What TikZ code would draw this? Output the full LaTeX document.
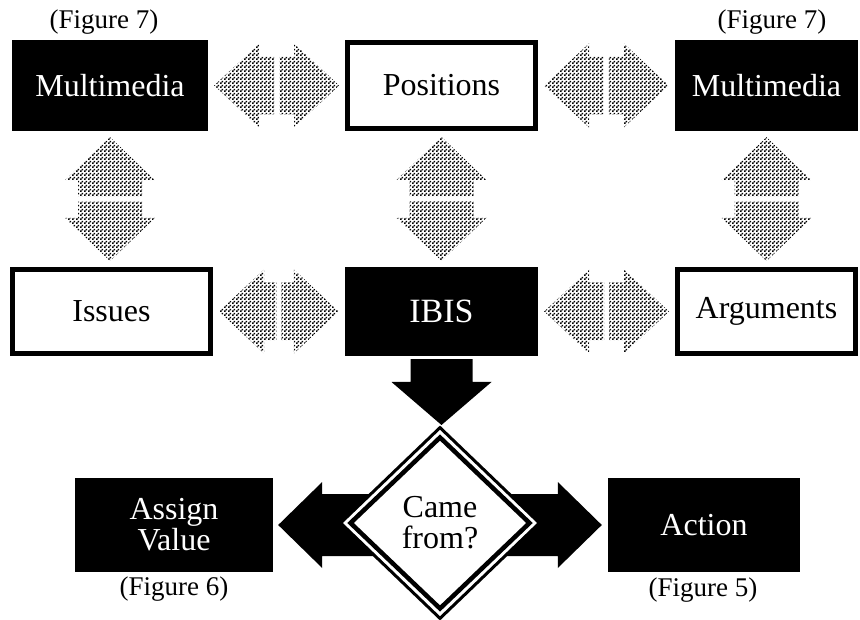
\documentclass[tikz,border=0pt]{standalone}
\usepackage{fontspec}
\setmainfont{Liberation Serif}
\usetikzlibrary{calc,patterns,shapes.geometric}
\pgfdeclarepatternformonly{checker}{\pgfpointorigin}{\pgfpoint{4pt}{4pt}}{\pgfpoint{4pt}{4pt}}{%
  \pgfpathrectangle{\pgfpointorigin}{\pgfpoint{2pt}{2pt}}%
  \pgfpathrectangle{\pgfpoint{2pt}{2pt}}{\pgfpoint{2pt}{2pt}}%
  \pgfusepath{fill}}
\tikzset{
  darkbox/.style={rectangle, fill=black, text=white, inner sep=0pt, align=center,
    font=\fontsize{32}{31}\selectfont},
  lightbox/.style={rectangle, draw=black, line width=5pt, fill=white, inner sep=0pt, align=center,
    font=\fontsize{32}{31}\selectfont},
  figlabel/.style={inner sep=0pt, font=\fontsize{27}{30}\selectfont},
  hatch/.style={pattern=checker, pattern color=black},
  solidarrow/.style={fill=black},
}
\newcommand{\hpair}[2]{%
  \fill[hatch] let \p1=($(#1.east)+(6,0)$), \p2=($(#2.west)+(-6,0)$), \n1={(\x1+\x2)/2} in
    (\x1,\y1) -- (\x1+45pt,\y1+42pt) -- (\x1+45pt,\y1+29pt) -- (\n1-2.5pt,\y1+29pt)
      -- (\n1-2.5pt,\y1-29pt) -- (\x1+45pt,\y1-29pt) -- (\x1+45pt,\y1-42pt) -- cycle
    (\x2,\y1) -- (\x2-45pt,\y1+42pt) -- (\x2-45pt,\y1+29pt) -- (\n1+2.5pt,\y1+29pt)
      -- (\n1+2.5pt,\y1-29pt) -- (\x2-45pt,\y1-29pt) -- (\x2-45pt,\y1-42pt) -- cycle;}
\newcommand{\vpair}[2]{%
  \fill[hatch] let \p1=($(#1.south)+(0,6)$), \p2=($(#2.north)+(0,-6)$), \n1={(\y1+\y2)/2} in
    (\x1,\y1) -- (\x1+45pt,\y1-43pt) -- (\x1+32pt,\y1-43pt) -- (\x1+32pt,\n1+2.5pt)
      -- (\x1-32pt,\n1+2.5pt) -- (\x1-32pt,\y1-43pt) -- (\x1-45pt,\y1-43pt) -- cycle
    (\x1,\y2) -- (\x1+45pt,\y2+43pt) -- (\x1+32pt,\y2+43pt) -- (\x1+32pt,\n1-2.5pt)
      -- (\x1-32pt,\n1-2.5pt) -- (\x1-32pt,\y2+43pt) -- (\x1-45pt,\y2+43pt) -- cycle;}
\begin{document}
\begin{tikzpicture}[x=1pt,y=-1pt]
\useasboundingbox[fill=white] (0,0) rectangle (860,620);
% top row
\node[darkbox, minimum width=196pt, minimum height=91pt] (mmL) at (110,85.5) {Multimedia};
\node[lightbox, minimum width=188pt, minimum height=86pt] (pos) at (441.5,85.5) {Positions};
\node[darkbox, minimum width=183pt, minimum height=91pt] (mmR) at (766.5,85.5) {Multimedia};
\node[figlabel] (f7l) at (104,22) {(Figure 7)};
\node[figlabel] (f7r) at (772,22) {(Figure 7)};
% middle row
\node[lightbox, minimum width=198pt, minimum height=84pt] (iss) at (111.5,311.5) {Issues};
\node[darkbox, minimum width=193pt, minimum height=89pt] (ibis) at (441.5,311.5) {\fontsize{34}{34}\selectfont IBIS};
\node[lightbox, minimum width=178pt, minimum height=84pt] (arg) at (766.5,311.5) {Arguments};
% bottom row
\node[darkbox, minimum width=198pt, minimum height=94pt] (assign) at (174,525) {Assign\\Value};
\node[darkbox, minimum width=192pt, minimum height=94pt] (action) at (704,525) {Action};
\node[figlabel] (f6) at (174,589) {(Figure 6)};
\node[figlabel] (f5) at (703,590) {(Figure 5)};
% hatched double arrows
\hpair{mmL}{pos}
\hpair{pos}{mmR}
\hpair{iss}{ibis}
\hpair{ibis}{arg}
\vpair{mmL}{iss}
\vpair{pos}{ibis}
\vpair{mmR}{arg}
% decision diamond position (drawn later on top)
\path (440,523) coordinate (cc);
% solid arrows
\fill[solidarrow] let \p1=($(ibis.south)+(0,3)$), \p2=($(cc)+(0,-98)$) in
  (\x1-31pt,\y1) -- (\x1+31pt,\y1) -- (\x1+31pt,\y2+43pt) -- (\x1+50pt,\y2+43pt)
  -- (\x1,\y2) -- (\x1-50pt,\y2+43pt) -- (\x1-31pt,\y2+43pt) -- cycle;
\fill[solidarrow] let \p1=($(assign.east)+(5,0)$), \p2=(cc) in
  (\x1,\y1) -- (\x1+44pt,\y1+43pt) -- (\x1+44pt,\y1+31pt) -- (\x2,\y1+31pt)
  -- (\x2,\y1-31pt) -- (\x1+44pt,\y1-31pt) -- (\x1+44pt,\y1-43pt) -- cycle;
\fill[solidarrow] let \p1=($(action.west)+(-6,0)$), \p2=(cc) in
  (\x1,\y1) -- (\x1-44pt,\y1+43pt) -- (\x1-44pt,\y1+31pt) -- (\x2,\y1+31pt)
  -- (\x2,\y1-31pt) -- (\x1-44pt,\y1-31pt) -- (\x1-44pt,\y1-43pt) -- cycle;
% diamond
\node[diamond, draw=black, fill=white, line width=3pt, minimum width=200pt, minimum height=192pt,
  inner sep=0pt, align=center, font=\fontsize{32}{31}\selectfont] (came) at (cc) {Came\\from?};
\draw[line width=4.5pt, line join=miter]
  ($(came.north)+(0,12)$) -- ($(came.east)+(-12,0)$) -- ($(came.south)+(0,-12)$)
  -- ($(came.west)+(12,0)$) -- cycle;
\end{tikzpicture}
\end{document}
